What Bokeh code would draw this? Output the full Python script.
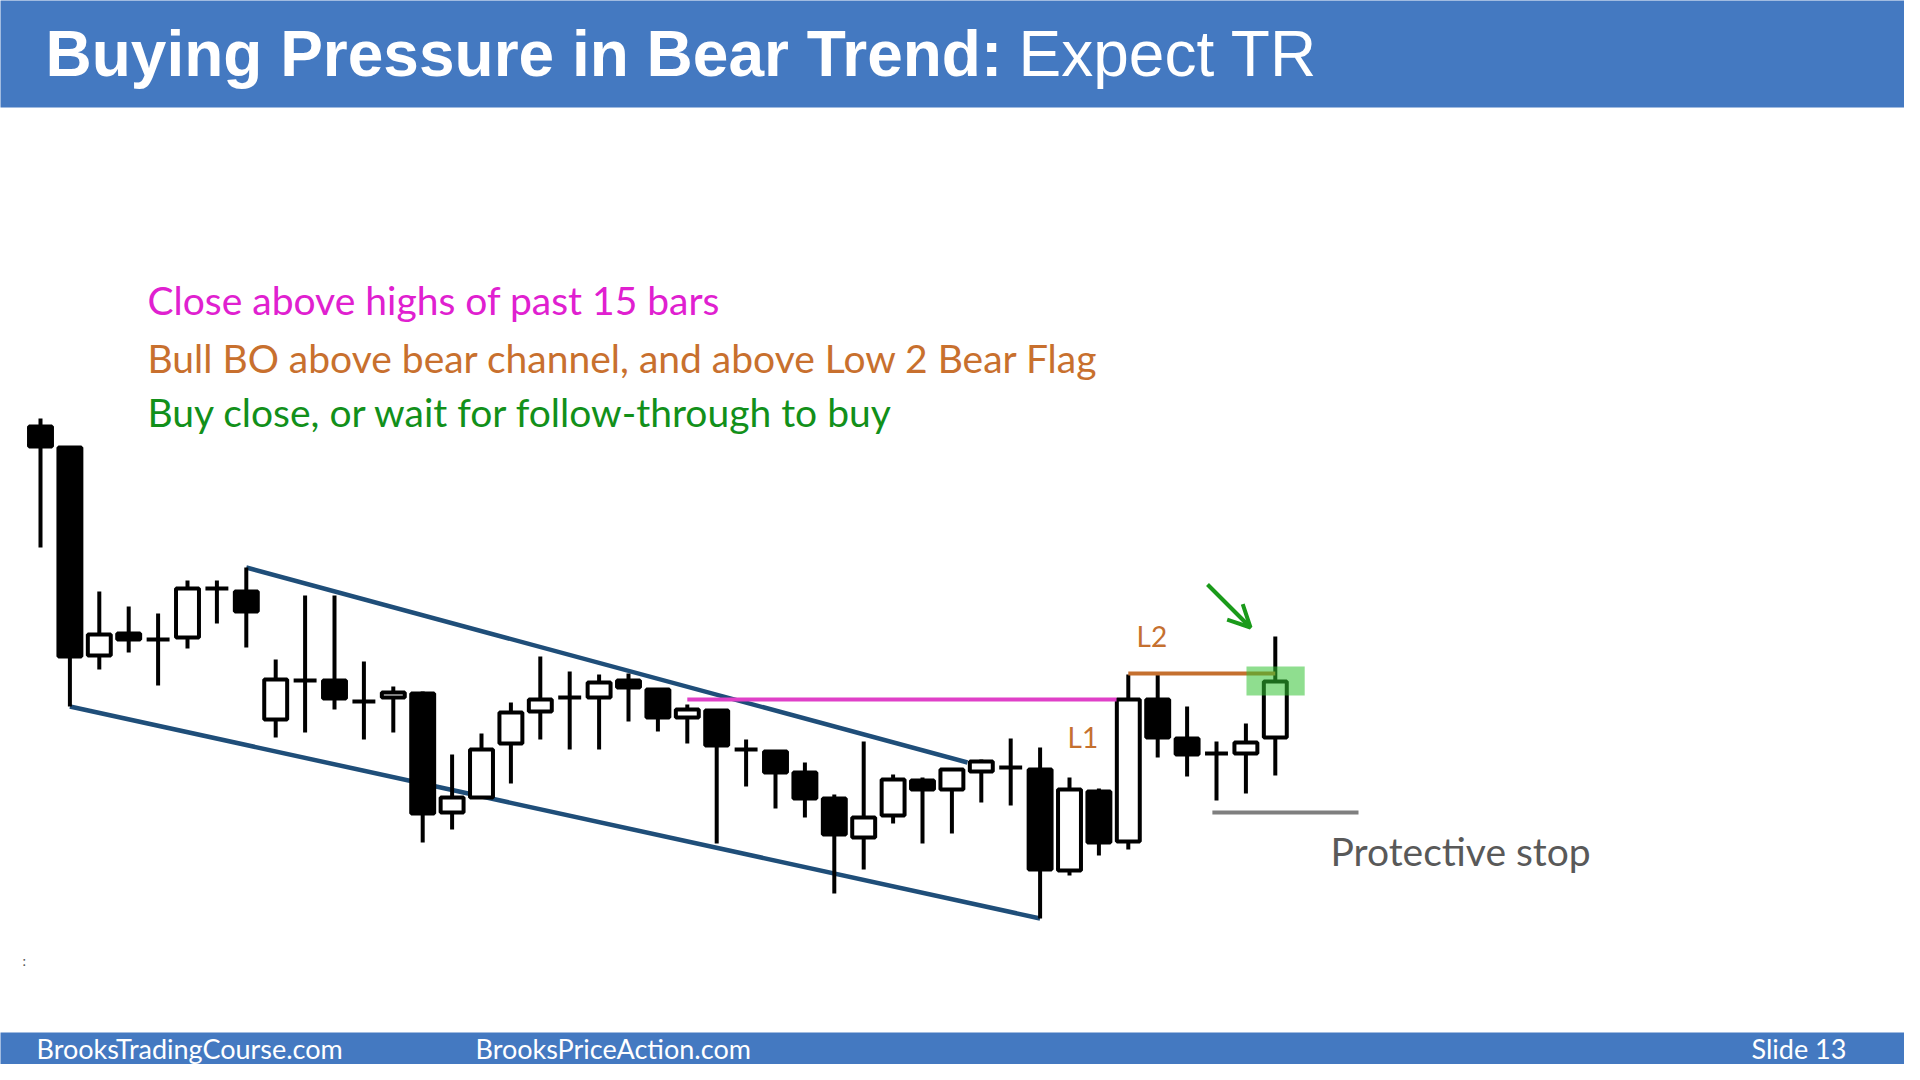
from bokeh.plotting import figure
from bokeh.models import Range1d, Label, Arrow, OpenHead, ColumnDataSource
from bokeh.embed import file_html
from bokeh.resources import INLINE

# ---------------- data (price units, bar index) ----------------
bar_open  = [574, 553, 345, 367, 361, 363, 412, 409, 281, 320, 320, 299, 303, 307, 188,
             203, 257, 289, 303, 303, 320, 311, 283, 290, 251, 249, 228, 202, 163, 185,
             220, 211, 229, 233, 231, 130, 209, 159, 301, 262, 247, 247, 263]
bar_high  = [582, 553, 409, 394, 387, 420, 420, 433, 341, 405, 405, 339, 314, 309, 246,
             267, 298, 344, 329, 326, 327, 311, 296, 290, 261, 249, 238, 206, 259, 226,
             223, 231, 241, 262, 253, 223, 212, 326, 326, 294, 259, 277, 364]
bar_low   = [453, 294, 331, 348, 315, 352, 377, 353, 263, 268, 291, 261, 268, 158, 171,
             203, 217, 261, 251, 251, 279, 269, 257, 157, 214, 192, 183, 107, 131, 177,
             157, 167, 198, 195, 82, 125, 145, 151, 243, 224, 200, 207, 225]
bar_close = [554, 344, 366, 361, 361, 412, 412, 389, 321, 320, 302, 299, 308, 187, 203,
             251, 288, 301, 303, 318, 313, 283, 291, 255, 251, 228, 202, 166, 183, 221,
             211, 231, 239, 233, 131, 211, 158, 301, 263, 246, 247, 258, 319]
bar_index = list(range(len(bar_open)))

# annotation levels (price units / bar index)
upper_channel_x = [7, 31.53]
upper_channel_y = [433, 238]
lower_channel_x = [1, 34]
lower_channel_y = [294, 82]
close_above_level = 301          # magenta line
close_above_x = [22, 36.6]
l2_level = 327                   # Low 2 high
l2_x = [37, 42]
stop_level = 188
stop_x = [39.86, 44.83]
signal_box = dict(left=41.02, right=43.0, bottom=305, top=334)

title_bold = "Buying Pressure in Bear Trend:"
title_regular = "Expect TR"
notes = ["Close above highs of past 15 bars",
         "Bull BO above bear channel, and above Low 2 Bear Flag",
         "Buy close, or wait for follow-through to buy"]
footer_left = "BrooksTradingCourse.com"
footer_mid = "BrooksPriceAction.com"
footer_right = "Slide  13"

# ---------------- layout helpers (slide pixel -> data) ----------------
BAR_PX = 29.4
X0_PX = 40.0
def sx(px):
    return (px - X0_PX) / BAR_PX
def sy(py):
    return 1000.0 - py
def base(py, size):
    # label anchor so that the rendered baseline falls on slide pixel row py
    return sy(py - 0.39 * size)

W, H = 1904, 1064
p = figure(width=W, height=H, x_range=Range1d(sx(0), sx(W)), y_range=Range1d(sy(H), sy(0)),
           output_backend="svg", toolbar_location=None, min_border=0,
           x_axis_location=None, y_axis_location=None, outline_line_color=None,
           background_fill_color="white", border_fill_color="white")
p.grid.visible = False

BLUE = "#4479c1"
# title bar and footer
p.quad(left=[sx(-10)], right=[sx(1930)], top=[sy(-10)], bottom=[sy(107)], fill_color=BLUE, line_color=None)
p.quad(left=[sx(-10)], right=[sx(1930)], top=[sy(1032)], bottom=[sy(1090)], fill_color=BLUE, line_color=None)

p.add_layout(Label(x=sx(45), y=base(78, 64), text=title_bold, text_font="Liberation Sans", text_font_style="bold",
                   text_font_size="64px", text_color="white", text_baseline="alphabetic"))
p.add_layout(Label(x=sx(1018), y=base(78, 64), text=title_regular, text_font="Liberation Sans",
                   text_font_size="64px", text_color="white", text_baseline="alphabetic"))

for txt, xx in [(footer_left, 36), (footer_mid, 475), (footer_right, 1751)]:
    p.add_layout(Label(x=sx(xx), y=base(1059, 27), text=txt, text_font="Lato", text_font_size="27px",
                       text_color="white", text_baseline="alphabetic"))

note_colors = ["#e020d0", "#c8702e", "#12901a"]
for txt, col, b in zip(notes, note_colors, [315, 373, 427]):
    p.add_layout(Label(x=sx(147), y=base(b, 39), text=txt, text_font="Lato", text_font_size="39px",
                       text_color=col, text_baseline="alphabetic"))

# channel lines
p.line(upper_channel_x, upper_channel_y, line_color="#1f4e79", line_width=4.5)
p.line(lower_channel_x, lower_channel_y, line_color="#1f4e79", line_width=4.5)

# candles
src = ColumnDataSource(dict(
    x=bar_index, high=bar_high, low=bar_low,
    top=[max(o, c) for o, c in zip(bar_open, bar_close)],
    bottom=[min(o, c) for o, c in zip(bar_open, bar_close)],
    fill=["white" if (c > o) else "black" for o, c in zip(bar_open, bar_close)],
))
p.segment(x0="x", y0="high", x1="x", y1="low", source=src, line_color="black", line_width=4)
p.vbar(x="x", width=0.78, top="top", bottom="bottom", source=src, fill_color="fill",
       line_color="black", line_width=4)

# magenta close-above line, L2 line
p.line(close_above_x, [close_above_level] * 2, line_color="#e040c8", line_width=4)
p.line(l2_x, [l2_level] * 2, line_color="#c5702f", line_width=4)

# green highlight box
p.quad(left=[signal_box["left"]], right=[signal_box["right"]], top=[signal_box["top"]],
       bottom=[signal_box["bottom"]], fill_color="#33c233", fill_alpha=0.55, line_color=None)

# protective stop
p.line(stop_x, [stop_level] * 2, line_color="#7f7f7f", line_width=4)
p.add_layout(Label(x=sx(1330), y=base(866, 39), text="Protective stop", text_font="Lato", text_font_size="39px",
                   text_color="#595959", text_baseline="alphabetic"))

# L1 / L2 labels
p.add_layout(Label(x=sx(1067), y=base(747, 28), text="L1", text_font="Lato", text_font_size="28px",
                   text_color="#c5702f", text_baseline="alphabetic"))
p.add_layout(Label(x=sx(1136), y=base(646, 28), text="L2", text_font="Lato", text_font_size="28px",
                   text_color="#c5702f", text_baseline="alphabetic"))

# green arrow
p.add_layout(Arrow(end=OpenHead(size=22, line_color="#1a9a1a", line_width=4),
                   x_start=sx(1207), y_start=sy(584), x_end=sx(1250), y_end=sy(627),
                   line_color="#1a9a1a", line_width=4))

# tiny mark at left
p.add_layout(Label(x=sx(22), y=base(965, 14), text=":", text_font="Lato", text_font_size="14px",
                   text_color="#555555", text_baseline="alphabetic"))

open("out.html", "w").write(file_html(p, INLINE))
